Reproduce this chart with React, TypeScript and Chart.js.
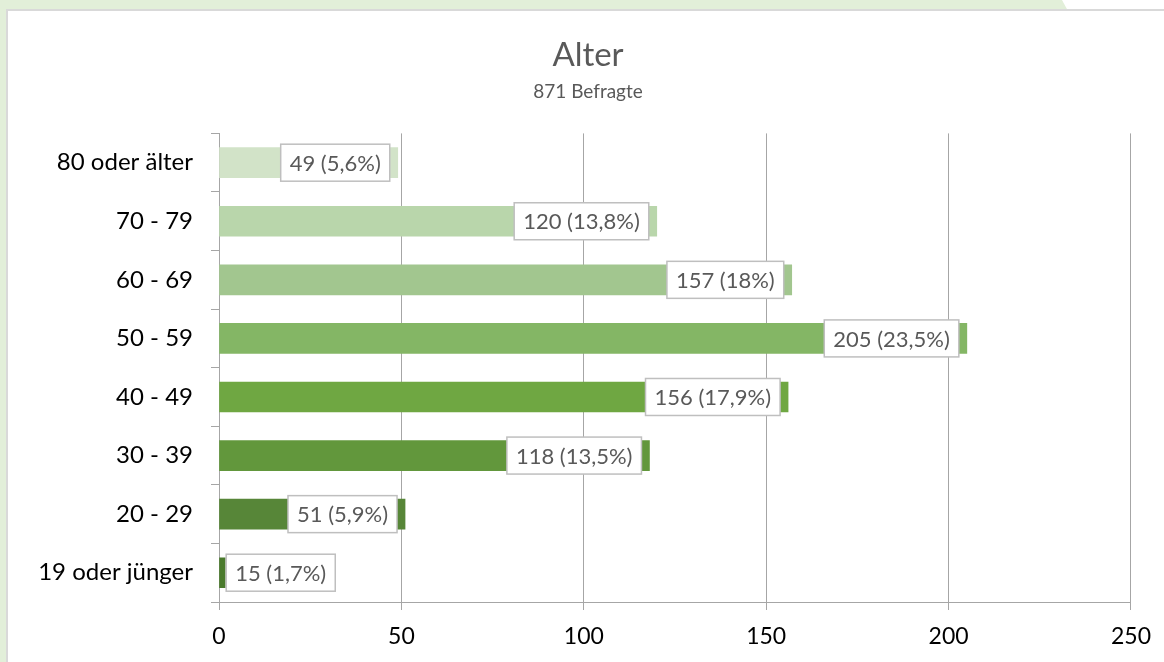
import React, { useEffect, useRef } from "react";
import { Chart, registerables } from "chart.js";

Chart.register(...registerables);

const categories = ["80 oder älter", "70 - 79", "60 - 69", "50 - 59", "40 - 49", "30 - 39", "20 - 29", "19 oder jünger"];
// bar lengths as drawn in the picture
const barValues = [49, 120, 157, 205, 156, 118, 51, 1.7];
// counts and shares shown in the data labels
const counts = [49, 120, 157, 205, 156, 118, 51, 15];
const shares = ["5,6", "13,8", "18", "23,5", "17,9", "13,5", "5,9", "1,7"];
const barColors = ["#d2e3c8", "#b9d6ab", "#a2c68f", "#84b665", "#6fa742", "#62973c", "#578638", "#4a7a2c"];
const xTicks = [0, 50, 100, 150, 200, 250];

const FONT = "Lato, 'Open Sans', sans-serif";
const TITLE_TEXT = "Alter";
const SUBTITLE_TEXT = "871 Befragte";

const labelPlugin = {
  id: "boxLabels",
  afterLayout(chart: any) {
    // centre title and subtitle over the card rather than the canvas
    chart.boxes.forEach((b: any) => {
      if (b.options && (b.options.text === TITLE_TEXT || b.options.text === SUBTITLE_TEXT)) {
        b.left = 45;
      }
    });
  },
  afterDatasetsDraw(chart: any) {
    const ctx = chart.ctx;
    const meta = chart.getDatasetMeta(0);
    ctx.save();
    ctx.font = `22px ${FONT}`;
    ctx.textBaseline = "middle";
    ctx.textAlign = "center";
    meta.data.forEach((bar: any, i: number) => {
      const text = `${counts[i]} (${shares[i]}%)`;
      const w = ctx.measureText(text).width + 18;
      const h = 37;
      let right = bar.x - 8;
      let left = right - w;
      if (left < bar.base + 4) {
        left = bar.x + 1;
        right = left + w;
      }
      const top = bar.y - h / 2;
      ctx.fillStyle = "#ffffff";
      ctx.fillRect(left, top, w, h);
      ctx.strokeStyle = "#bfbfbf";
      ctx.lineWidth = 1.5;
      ctx.strokeRect(left, top, w, h);
      ctx.fillStyle = "#595959";
      ctx.fillText(text, (left + right) / 2, bar.y + 1);
    });
    ctx.restore();
  },
};

export default function App() {
  const ref = useRef<HTMLCanvasElement>(null);
  useEffect(() => {
    if (!ref.current) return;
    const chart = new Chart(ref.current, {
      type: "bar",
      data: {
        labels: categories,
        datasets: [
          {
            data: barValues,
            backgroundColor: barColors,
            barThickness: 30,
            borderWidth: 0,
          },
        ],
      },
      plugins: [labelPlugin],
      options: {
        indexAxis: "y",
        responsive: false,
        animation: false,
        layout: { padding: { top: 0, left: 0, right: 33, bottom: 0 } },
        plugins: {
          legend: { display: false },
          tooltip: { enabled: false },
          title: {
            display: true,
            text: TITLE_TEXT,
            color: "#595959",
            font: { family: FONT, size: 33, weight: "normal" },
            padding: { top: 36, bottom: 0 },
          },
          subtitle: {
            display: true,
            text: SUBTITLE_TEXT,
            color: "#595959",
            font: { family: FONT, size: 19, weight: "normal" },
            padding: { top: 5, bottom: 30 },
          },
        },
        scales: {
          x: {
            min: 0,
            max: 250,
            afterBuildTicks(scale: any) {
              scale.ticks = xTicks.map((v) => ({ value: v }));
            },
            afterFit(scale: any) {
              scale.height = 60;
            },
            ticks: {
              color: "#000000",
              font: { family: FONT, size: 23 },
              padding: 13,
            },
            grid: { color: "#a6a6a6", lineWidth: 1, tickLength: 8 },
            border: { display: true, color: "#a6a6a6", width: 1 },
          },
          y: {
            afterFit(scale: any) {
              scale.width = 219;
            },
            ticks: {
              color: "#000000",
              font: { family: FONT, size: 24 },
              padding: 18,
            },
            grid: { drawOnChartArea: false, color: "#a6a6a6", tickLength: 8, offset: true },
            border: { display: true, color: "#a6a6a6", width: 1 },
          },
        },
      },
    } as any);
    return () => chart.destroy();
  }, []);

  return (
    <div style={{ position: "fixed", left: 0, top: 0, width: 1164, height: 662, background: "#e2efd9", overflow: "hidden" }}>
      <div
        style={{
          position: "absolute",
          left: 0,
          top: 0,
          width: 1164,
          height: 11,
          background: "#ffffff",
          clipPath: "polygon(1062px 0, 1164px 0, 1164px 11px, 1068px 11px)",
        }}
      />
      <div
        style={{
          position: "absolute",
          left: 6,
          top: 9,
          width: 1158,
          height: 653,
          background: "#ffffff",
          borderTop: "2px solid #d9d9d9",
          borderLeft: "2px solid #d9d9d9",
          boxSizing: "border-box",
        }}
      />
      <canvas ref={ref} width={1164} height={662} style={{ position: "absolute", left: 0, top: 0 }} />
    </div>
  );
}
